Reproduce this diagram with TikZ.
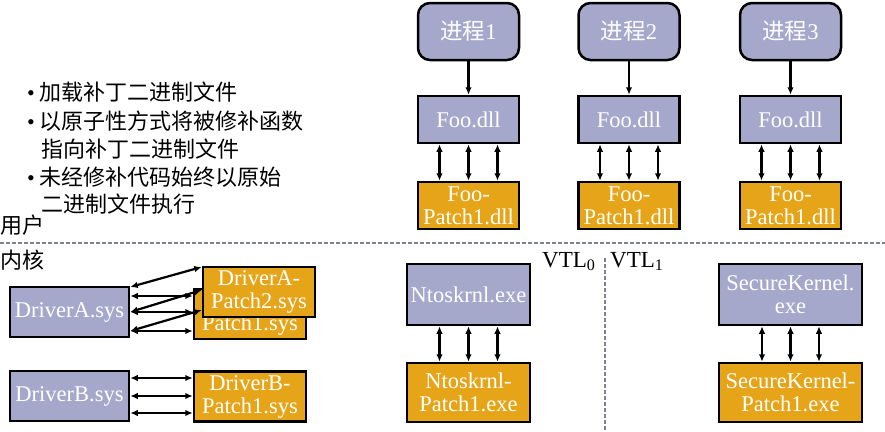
\documentclass[tikz,border=0pt]{standalone}
\usepackage{fontspec}
\setmainfont{Liberation Serif}
\newfontfamily\cjk{Noto Sans CJK SC}
\usetikzlibrary{arrows.meta,calc}
\definecolor{lav}{RGB}{166,168,203}
\definecolor{org}{RGB}{230,165,24}
\definecolor{dashc}{RGB}{128,128,150}
\tikzset{
  boxbase/.style={draw=black,line width=2.5pt,inner sep=0pt,align=center,text=white,
    font=\fontsize{22.5}{23}\selectfont},
  lavbox/.style={boxbase,fill=lav},
  orgbox/.style={boxbase,fill=org},
  procbox/.style={boxbase,fill=lav,rounded corners=12pt,minimum width=101pt,minimum height=57pt},
  dar/.style={line width=2.2pt,{Latex[length=7.5pt,width=6.5pt]}-{Latex[length=7.5pt,width=6.5pt]}},
  sar/.style={line width=2.2pt,-{Latex[length=7.5pt,width=6.5pt]}},
  divider/.style={dashc,line width=2pt,dash pattern=on 4pt off 2pt},
  cjktext/.style={anchor=west,inner sep=0pt,font=\cjk\fontsize{22}{22}\selectfont},
  vtltext/.style={anchor=base west,inner sep=0pt,font=\fontsize{23}{23}\selectfont},
}
\begin{document}
\begin{tikzpicture}[x=1pt,y=-1pt]
\useasboundingbox (0,0) rectangle (885,431);
\fill[white] (0,0) rectangle (885,431);

% dividers
\draw[divider] (0,243) -- (885,243);
\draw[divider] (605,258) -- (605,431);

% left texts
\node[cjktext] (b1) at (27,92.5) {\fontspec{Liberation Serif}\char"2022\hspace{5pt}\cjk 加载补丁二进制文件};
\node[cjktext] (b2) at (27,121) {\fontspec{Liberation Serif}\char"2022\hspace{5pt}\cjk 以原子性方式将被修补函数};
\node[cjktext] (b2b) at (41,149) {指向补丁二进制文件};
\node[cjktext] (b3) at (27,177) {\fontspec{Liberation Serif}\char"2022\hspace{5pt}\cjk 未经修补代码始终以原始};
\node[cjktext] (b3b) at (41,204) {二进制文件执行};
\node[cjktext] (user) at (0,225) {用户};
\node[cjktext] (kern) at (0,260) {内核};

% VTL labels
\node[vtltext] (vtl0) at (542,267) {VTL\textsubscript{0}};
\node[vtltext] (vtl1) at (610,267) {VTL\textsubscript{1}};

% processes
\foreach \i/\x in {1/468.5,2/629,3/790.5}{
  \node[procbox] (p\i) at (\x,31.5) {{\cjk 进程}\i};
  \node[lavbox,minimum width=101pt,minimum height=47pt] (f\i) at (\x,119.5) {Foo.dll};
  \node[orgbox,minimum width=101pt,minimum height=47pt] (fp\i) at (\x,205.5) {Foo-\\Patch1.dll};
  \draw[sar] (p\i.south) -- (f\i.north);
  \foreach \d in {-29,0,29}{
    \draw[dar] ($(f\i.south)+(\d,0)$) -- ($(fp\i.north)+(\d,0)$);
  }
}

% Ntoskrnl
\node[lavbox,minimum width=123pt,minimum height=61pt] (nt) at (468.5,294.5) {Ntoskrnl.exe};
\node[orgbox,minimum width=123pt,minimum height=59pt] (ntp) at (468.5,392.5) {Ntoskrnl-\\Patch1.exe};
\foreach \d in {-29,0,29}{
  \draw[dar] ($(nt.south)+(\d,0)$) -- ($(ntp.north)+(\d,0)$);
}

% SecureKernel
\node[lavbox,minimum width=143pt,minimum height=61pt] (sk) at (790.5,294.5) {SecureKernel.\\exe};
\node[orgbox,minimum width=143pt,minimum height=59pt] (skp) at (790.5,392.5) {SecureKernel-\\Patch1.exe};
\foreach \d in {-28.5,0,28.5}{
  \draw[dar] ($(sk.south)+(\d,0)$) -- ($(skp.north)+(\d,0)$);
}

% Drivers
\node[lavbox,minimum width=119pt,minimum height=50pt] (dA) at (69.5,312) {DriverA.sys};
\node[orgbox,minimum width=112pt,minimum height=50pt] (dAp1) at (250,314) {\phantom{DriverA-}\\Patch1.sys};
\draw[dar] ($(dA.east)+(0,-16)$) -- ($(dAp1.west)+(0,-18)$);
\draw[dar] ($(dA.east)+(0,0)$) -- ($(dAp1.west)+(0,-2)$);
\draw[dar] ($(dA.east)+(0,19)$) -- ($(dAp1.west)+(0,17)$);
\node[orgbox,minimum width=112pt,minimum height=50pt] (dAp2) at (259,292) {DriverA-\\Patch2.sys};
\draw[dar] ($(dA.east)+(0,-25)$) -- ($(dAp2.west)+(0,-25)$);
\draw[dar] ($(dA.east)+(0,0)$) -- ($(dAp2.west)+(0,-2)$);
\draw[dar] ($(dA.east)+(0,19)$) -- ($(dAp2.west)+(0,18)$);

\node[lavbox,minimum width=119pt,minimum height=50pt] (dB) at (69.5,396) {DriverB.sys};
\node[orgbox,minimum width=112pt,minimum height=50pt] (dBp) at (250,396.5) {DriverB-\\Patch1.sys};
\foreach \d in {-18,0,17}{
  \draw[dar] ($(dB.east)+(0,\d)$) -- ($(dBp.west)+(0,\d-0.5)$);
}
\end{tikzpicture}
\end{document}
